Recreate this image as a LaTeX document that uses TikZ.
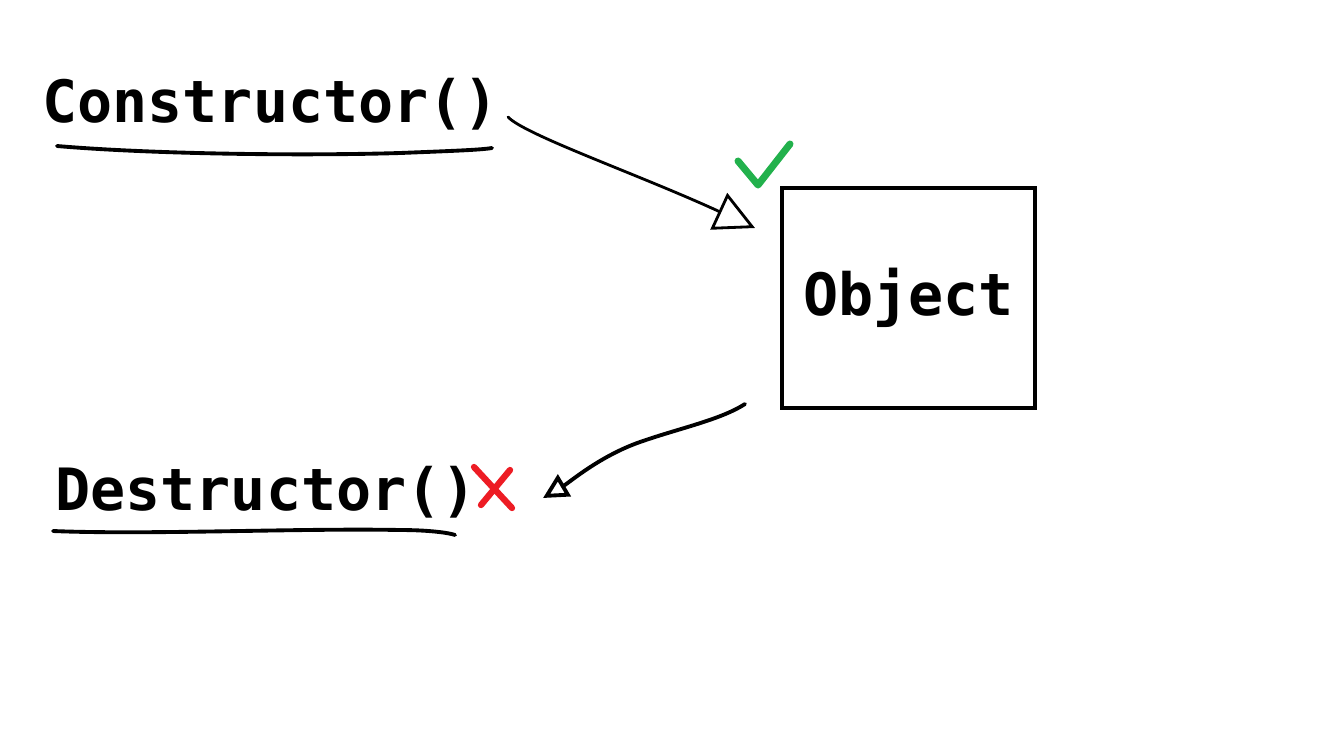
\documentclass[tikz,border=0pt]{standalone}
\usepackage{fontspec}
\usepackage{xcolor}
\usepackage{tikz}
\usetikzlibrary{arrows.meta}
\setmonofont{DejaVu Sans Mono}

\definecolor{okgreen}{RGB}{34,177,76}
\definecolor{badred}{RGB}{237,28,36}

\tikzset{
  code/.style={font=\ttfamily\bfseries\fontsize{33.2}{36}\selectfont, inner sep=0pt},
  scribble/.style={line width=2.2pt, line cap=round, line join=round},
  hand/.style={line width=2.2pt, line cap=round, line join=round},
  tick/.style={okgreen, line width=4pt, line cap=round, line join=round},
  cross/.style={badred, line width=3.6pt, line cap=round}
}

\begin{document}
\begin{tikzpicture}[x=0.02cm, y=-0.02cm]
\useasboundingbox (0,0) rectangle (1328,738);

\node[code, anchor=base west] (ctor) at (42,122) {Constructor()};
\node[code, anchor=base west] (dtor) at (55,510) {Destructor()};
\node[code, draw, line width=2.3pt, minimum width=5.06cm, minimum height=4.4cm] (obj) at (908.5,298) {Object};

\coordinate (ctor tail) at (508,117);
\coordinate (obj head) at (755,228);
\coordinate (obj tail) at (745,404);
\coordinate (dtor head) at (543,498);

\draw[scribble] (57,146) .. controls (150,154) and (300,156) .. (400,153) .. controls (450,151) and (480,150) .. (492,148);
\draw[scribble] (53,531) .. controls (150,535) and (300,528) .. (400,530) .. controls (430,530) and (450,533) .. (455,535);

\draw[hand, line width=1.6pt, -{Triangle[open, length=0.8cm, width=0.8cm]}] (ctor tail) .. controls (525,135) and (640,175) .. (obj head);
\draw[hand, -{Triangle[open, length=0.5cm, width=0.5cm]}] (obj tail) .. controls (720,420) and (680,428) .. (640,442) .. controls (600,456) and (570,482) .. (dtor head);

\draw[tick] (738,161) -- (758,185) -- (790,144);

\draw[cross] (474,467) -- (512,508);
\draw[cross] (510,470) -- (481,505);
\end{tikzpicture}
\end{document}
